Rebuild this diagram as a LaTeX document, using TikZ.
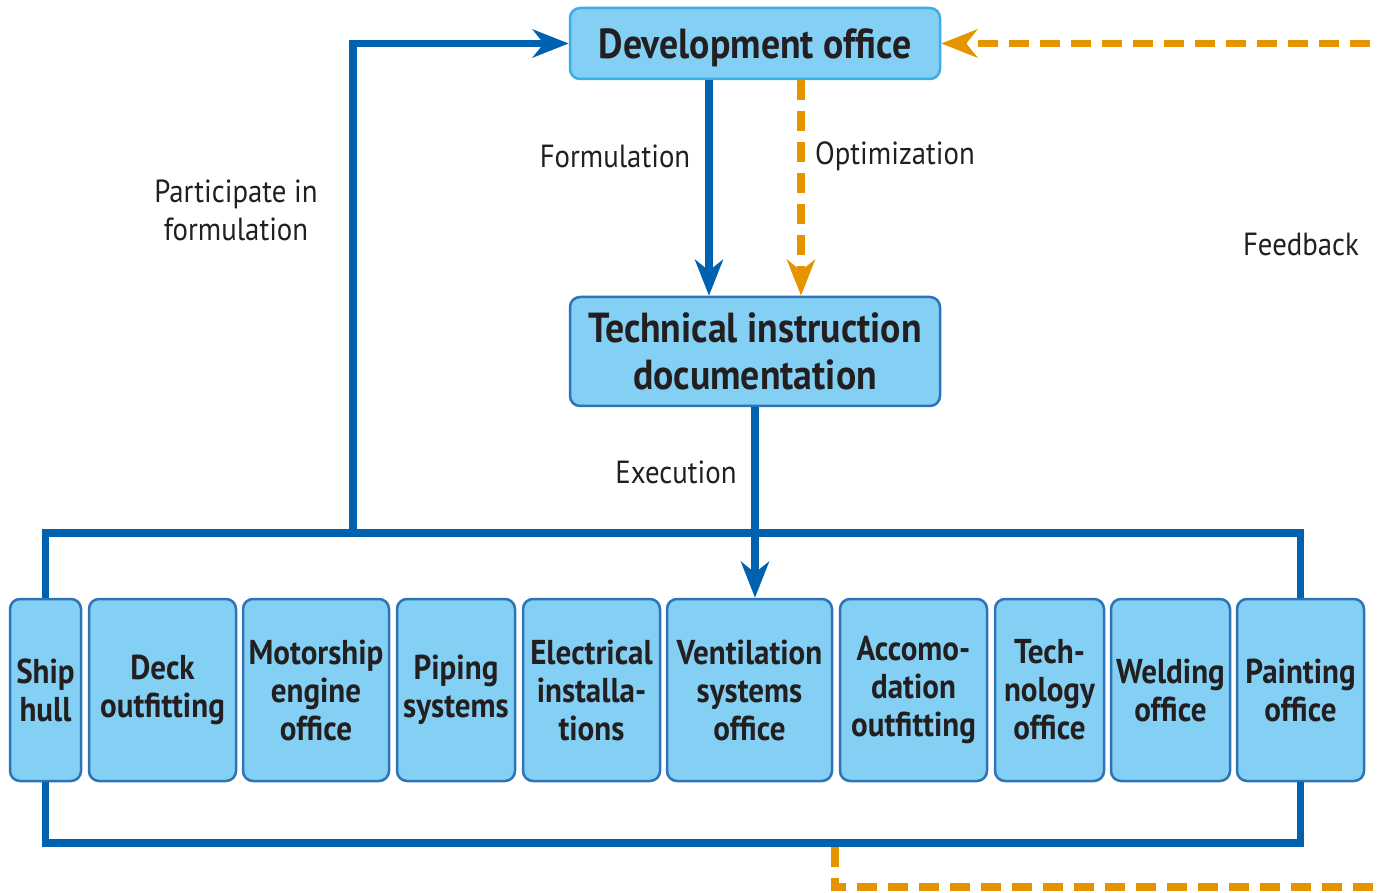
\documentclass[tikz,border=0pt]{standalone}
\usepackage{fontspec}
\setmainfont{PT Sans}[FakeStretch=0.9]
\usetikzlibrary{arrows.meta}
\definecolor{boxfill}{HTML}{84CFF4}
\definecolor{boxedge}{HTML}{2C73B8}
\definecolor{devedge}{HTML}{3AAEE6}
\definecolor{flowblue}{HTML}{0062AE}
\definecolor{fbor}{HTML}{E59400}
\definecolor{ink}{HTML}{231F20}
\tikzset{
  box/.style={rounded corners=10pt, fill=boxfill, draw=boxedge, line width=2.5pt,
    text=ink, align=center, font=\bfseries\fontsize{34.5}{38}\selectfont, inner sep=0pt},
  topbox/.style={box, font=\bfseries\fontsize{42}{47}\selectfont, text depth=0pt},
  bluefl/.style={draw=flowblue, line width=7.5pt},
  orfl/.style={draw=fbor, line width=7.5pt, dash pattern=on 20pt off 11pt},
  tip/.style={-{Stealth[length=36pt,width=28pt,inset=11pt]}},
  lbl/.style={text=ink, align=center, font=\fontsize{32}{38}\selectfont, inner sep=0pt}
}
\begin{document}
\begin{tikzpicture}[x=1pt,y=-1pt]
\useasboundingbox (0,0) rectangle (1377,893);
\clip (0,0) rectangle (1377,893);
% top boxes
\node[topbox, draw=devedge, minimum width=370pt, minimum height=71pt, text height=30pt] (dev) at (755,43.5) {Development office};
\node[topbox, minimum width=370pt, minimum height=109pt] (tech) at (755,351.5) {Technical instruction\\documentation};
% bottom boxes
\foreach \n/\cx/\w/\t in {
  ship/45.5/71/{Ship\\hull},
  deck/162.5/147/{Deck\\outfitting},
  motor/316/146/{Motorship\\engine\\office},
  piping/456/118/{Piping\\systems},
  elec/591.5/137/{Electrical\\installa-\\tions},
  vent/749.5/165/{Ventilation\\systems\\office},
  accom/913.5/147/{Accomo-\\dation\\outfitting},
  techno/1049.5/109/{Tech-\\nology\\office},
  weld/1170.5/119/{Welding\\office},
  paint/1300.5/127/{Painting\\office}}
  {\node[box, minimum width=\w pt, minimum height=182pt] (\n) at (\cx,690) {\t};}
% coordinates
\coordinate (tl) at (45.5,533);
\coordinate (tr) at (1300.5,533);
\coordinate (bl) at (45.5,843);
\coordinate (br) at (1300.5,843);
\coordinate (pj) at (353,533);
\coordinate (fx) at (709,0);
\coordinate (ox) at (801,0);
\coordinate (fb) at (835,847);
\coordinate (fbr) at (1420,887);
% buses
\draw[bluefl] (ship.north) -- (tl) -- (tr) -- (paint.north);
\draw[bluefl] (ship.south) -- (bl) -- (br) -- (paint.south);
% participate
\draw[bluefl, tip] (pj) |- (dev.west);
% formulation
\draw[bluefl, tip] (dev.south -| fx) -- (tech.north -| fx);
% optimization
\draw[orfl, tip] (dev.south -| ox) -- (tech.north -| ox);
% execution
\draw[bluefl, tip] (tech.south) -- (tech.south |- vent.north);
% feedback
\draw[orfl, tip] (fb) |- (fbr) |- (dev.east);
% labels
\node[lbl] (lform) at (615,156) {Formulation};
\node[lbl] (lopt) at (895,156) {Optimization};
\node[lbl] (lexe) at (676,472) {Execution};
\node[lbl] (lpart) at (236,210) {Participate in\\formulation};
\node[lbl] (lfb) at (1301,244) {Feedback};
\end{tikzpicture}
\end{document}
